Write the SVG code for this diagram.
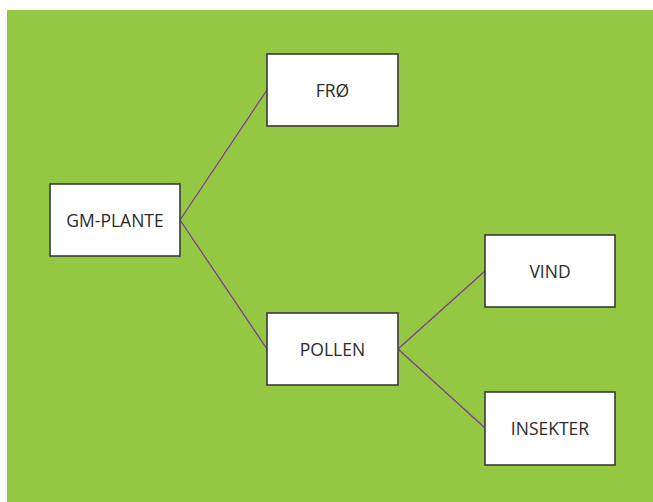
<svg xmlns="http://www.w3.org/2000/svg" width="653" height="502" viewBox="0 0 653 502">
<style>
.box{fill:#fff;stroke:#3a3a3a;stroke-width:1.6}
.lbl{font-family:"Open Sans","Noto Sans",sans-serif;font-size:17.5px;fill:#2b2b2b;text-anchor:middle;dominant-baseline:central}
.edge{stroke:#7a3d96;stroke-width:1.3;fill:none}
</style>
<rect x="7" y="10" width="646" height="492" fill="#95c842"/>
<g id="connectors">
<line class="edge" x1="180" y1="220" x2="267" y2="90"/>
<line class="edge" x1="180" y1="220" x2="267" y2="349"/>
<line class="edge" x1="398" y1="349" x2="485" y2="271"/>
<line class="edge" x1="398" y1="349" x2="485" y2="428"/>
</g>
<g id="gm-plante"><rect class="box" x="50" y="184" width="130" height="72"/><text class="lbl" x="115" y="220">GM-PLANTE</text></g>
<g id="fro"><rect class="box" x="267" y="54" width="131" height="72"/><text class="lbl" x="332.5" y="90">FRØ</text></g>
<g id="pollen"><rect class="box" x="267" y="313" width="131" height="72"/><text class="lbl" x="332.5" y="349">POLLEN</text></g>
<g id="vind"><rect class="box" x="485" y="235" width="130" height="72"/><text class="lbl" x="550" y="271">VIND</text></g>
<g id="insekter"><rect class="box" x="485" y="392" width="130" height="73"/><text class="lbl" x="550" y="428">INSEKTER</text></g>
</svg>
